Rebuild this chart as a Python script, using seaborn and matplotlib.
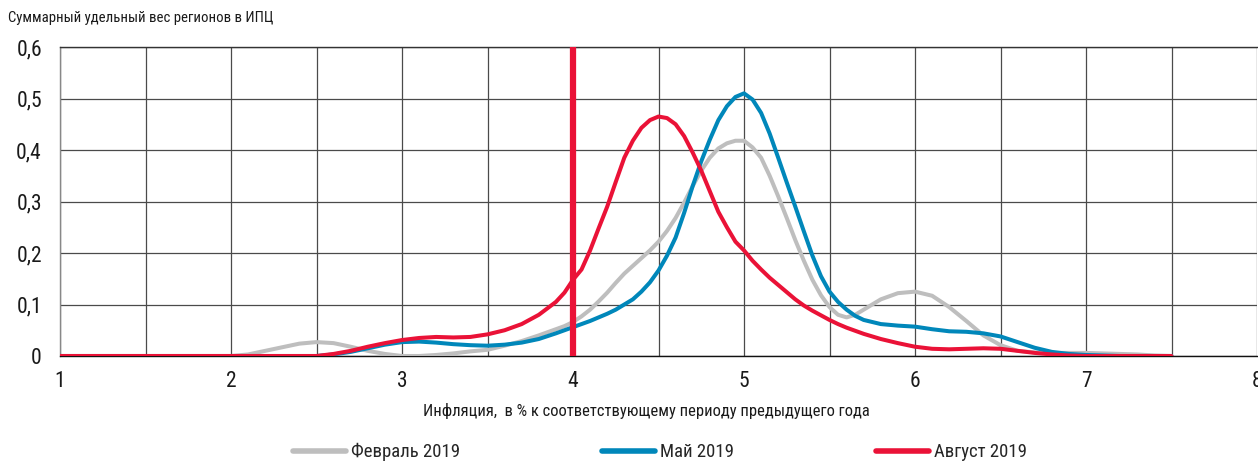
import numpy as np
import pandas as pd
import matplotlib
matplotlib.use("Agg")
import matplotlib.pyplot as plt
import seaborn as sns

# Inflation grid, % y/y (denser around the peaks)
inflation = np.round(np.r_[np.arange(1.0, 3.91, 0.1),
                           np.arange(3.95, 5.701, 0.05),
                           np.arange(5.8, 7.51, 0.1)], 2)

# Cumulative CPI weight of regions, by inflation level
feb_2019 = [
    # 1.0 - 3.9
    0, 0, 0, 0, 0, 0, 0, 0, 0, 0,
    0, .003, .01, .017, .024, .027, .025, .018, .01, .004,
    0, 0, .002, .005, .009, .012, .02, .029, .04, .052,
    # 3.95 - 5.7
    .058, .066, .077, .09, .106, .123, .142, .16, .175, .19,
    .205, .222, .243, .268, .298, .33, .36, .385, .403, .413,
    .418, .418, .405, .385, .35, .31, .268, .225, .185, .148,
    .118, .095, .08, .075, .08, .09,
    # 5.8 - 7.5
    .11, .122, .125, .117, .095, .068, .04, .021, .01, .007,
    .006, .006, .006, .005, .004, .003, .001, 0,
]
may_2019 = [
    0, 0, 0, 0, 0, 0, 0, 0, 0, 0,
    0, 0, 0, 0, 0, 0, .003, .008, .015, .022,
    .027, .028, .026, .023, .021, .02, .022, .026, .033, .044,
    .05, .056, .062, .068, .075, .082, .09, .1, .11, .125,
    .143, .166, .195, .23, .278, .33, .378, .42, .458, .485,
    .503, .51, .498, .472, .432, .385, .337, .29, .242, .195,
    .155, .125, .105, .09, .078, .07,
    .062, .059, .057, .052, .048, .047, .044, .038, .027, .016,
    .008, .004, .002, .001, 0, 0, 0, 0,
]
aug_2019 = [
    0, 0, 0, 0, 0, 0, 0, 0, 0, 0,
    0, 0, 0, 0, 0, 0, .004, .01, .018, .025,
    .031, .035, .037, .036, .037, .042, .05, .062, .08, .105,
    .123, .148, .168, .205, .248, .29, .338, .385, .418, .443,
    .458, .465, .462, .45, .427, .395, .36, .32, .28, .25,
    .222, .205, .185, .168, .152, .138, .124, .11, .098, .088,
    .079, .07, .062, .055, .049, .043,
    .033, .025, .018, .014, .013, .014, .015, .014, .01, .006,
    .003, .001, 0, 0, 0, 0, 0, 0,
]

series_names = ["Февраль 2019", "Май 2019", "Август 2019"]
series_colors = ["#BEBEBE", "#0087BA", "#EA1237"]
target = 4.0

x_ticks = [1, 2, 3, 4, 5, 6, 7, 8]
y_ticks = [0, 0.1, 0.2, 0.3, 0.4, 0.5, 0.6]
y_tick_labels = ["0", "0,1", "0,2", "0,3", "0,4", "0,5", "0,6"]

df = pd.DataFrame({
    "x": np.tile(inflation, 3),
    "y": np.concatenate([feb_2019, may_2019, aug_2019]),
    "series": np.repeat(series_names, len(inflation)),
})

sns.set_theme(style="white")
plt.rcParams["font.family"] = ["Roboto Condensed", "Liberation Sans Narrow",
                               "Noto Sans Condensed", "DejaVu Sans Condensed",
                               "DejaVu Sans"]
plt.rcParams["font.stretch"] = "condensed"

fig = plt.figure(figsize=(12.58, 4.62), dpi=100)
ax = fig.add_axes([60 / 1258, 106 / 462, 1197 / 1258, 309 / 462])

sns.lineplot(data=df, x="x", y="y", hue="series", hue_order=series_names,
             palette=series_colors, linewidth=2.9, ax=ax, legend=False,
             zorder=3)
for line in ax.get_lines():
    line.set_solid_joinstyle("round")
    line.set_solid_capstyle("round")
ax.axvline(target, ymin=0, ymax=1, color="#EA1237", linewidth=4.5, zorder=4)

ax.set_xlim(1, 8)
ax.set_ylim(0, 0.6)
ax.set_xticks(x_ticks)
ax.set_xticks(np.arange(1.5, 8, 1.0), minor=True)
ax.set_yticks(y_ticks)
ax.set_yticklabels(y_tick_labels)
ax.tick_params(axis="both", which="both", length=0, labelsize=15.5, colors="#1a1a1a")
ax.tick_params(axis="x", pad=11)
ax.tick_params(axis="y", pad=13)
ax.grid(True, which="both", color="#4a4a4a", linewidth=0.9)

for side, col in [("bottom", "#111111"), ("top", "#333333"), ("left", "#888888")]:
    ax.spines[side].set_color(col)
    ax.spines[side].set_linewidth(1.0)
ax.spines["right"].set_visible(False)

ax.set_xlabel("Инфляция,  в % к соответствующему периоду предыдущего года",
              fontsize=11.9, color="#1a1a1a")
ax.xaxis.set_label_coords((646 - 60) / 1197, -0.153)
ax.set_ylabel("")
fig.text(8 / 1258, 1 - 18 / 462, "Суммарный удельный вес регионов в ИПЦ",
         fontsize=10.6, color="#1a1a1a", va="center", ha="left")

handles = [plt.Line2D([], [], color=c, linewidth=4) for c in series_colors]
fig.legend(handles, series_names, loc="center", bbox_to_anchor=(0.5246, 1 - 452 / 462),
           ncol=3, frameon=False, fontsize=13.5, handlelength=2.8, handletextpad=0.27,
           columnspacing=7.6)

fig.savefig("out.png", dpi=100)
